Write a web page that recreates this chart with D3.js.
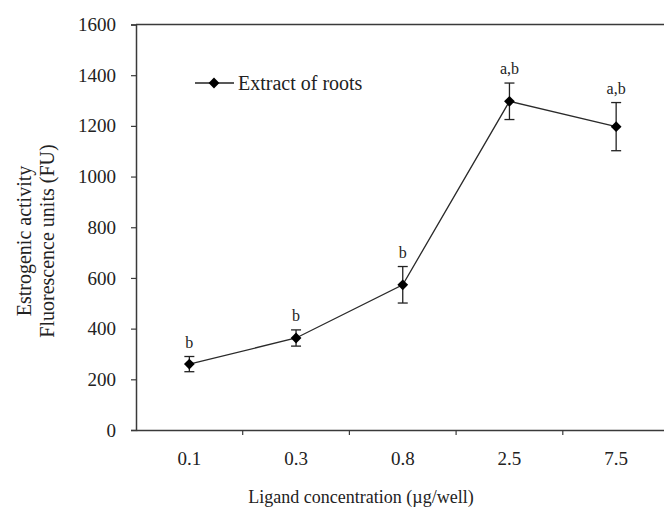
<!DOCTYPE html>
<html>
<head>
    <meta charset="utf-8">
    <title>estrogenic activity</title>
    <script type="text/javascript" src="https://d3js.org/d3.v7.min.js"></script>
    <style>
      body { margin: 0; background: #fff; }
      text { font-family: "Liberation Serif", "Times New Roman", serif; fill: #222; }
    </style>
</head>
<body>
<script type="text/javascript">
    // data
    var concentrations = ["0.1", "0.3", "0.8", "2.5", "7.5"]
    var activity = [260, 363, 573, 1297, 1197]
    var errors = [30, 32, 72, 72, 95]
    var letters = ["b", "b", "b", "a,b", "a,b"]
    var yTicks = [0, 200, 400, 600, 800, 1000, 1200, 1400, 1600]

    var width = 664
    var height = 511
    var svg = d3.select("body")
        .append("svg")
        .attr("width", width)
        .attr("height", height)

    var plotLeft = 136, plotRight = 669.5, plotTop = 24.5, plotBottom = 430

    var x = d3.scaleBand().domain(concentrations).range([plotLeft, plotRight])
    var y = d3.scaleLinear().domain([0, 1600]).range([plotBottom, plotTop])

    var axisColor = "#3a3a3a"

    // top border of plot area
    svg.append("line")
        .attr("x1", plotLeft).attr("x2", plotRight)
        .attr("y1", y(1600)).attr("y2", y(1600))
        .attr("stroke", axisColor).attr("stroke-width", 1.5)

    // y axis
    var yAxis = svg.append("g")
        .attr("transform", "translate(" + plotLeft + ",0)")
        .call(d3.axisLeft(y).tickValues(yTicks).tickFormat(d3.format("d")).tickSize(5).tickPadding(15))
    yAxis.select(".domain").attr("stroke", axisColor).attr("stroke-width", 1.5)
    yAxis.selectAll(".tick line").attr("stroke", axisColor).attr("stroke-width", 1.2)
    yAxis.selectAll(".tick text").style("font-size", "19px").style("font-family", "Liberation Serif").attr("fill", "#222")

    // x axis, ticks on category boundaries
    var xAxis = svg.append("g")
        .attr("transform", "translate(0," + plotBottom + ")")
        .call(d3.axisBottom(x).tickSize(0).tickPadding(22))
    xAxis.select(".domain").attr("stroke", axisColor).attr("stroke-width", 1.5)
    xAxis.selectAll(".tick text").style("font-size", "19px").style("font-family", "Liberation Serif").attr("fill", "#222")
    var bounds = concentrations.slice(1).map(function(c) { return x(c) })
    bounds.push(plotRight)
    svg.append("g").selectAll("line").data(bounds).enter().append("line")
        .attr("x1", function(d) { return d }).attr("x2", function(d) { return d })
        .attr("y1", plotBottom).attr("y2", plotBottom + 5)
        .attr("stroke", axisColor).attr("stroke-width", 1.2)

    var cx = function(i) { return x(concentrations[i]) + x.bandwidth() / 2 }

    // connecting line
    var line = d3.line()
        .x(function(d, i) { return cx(i) })
        .y(function(d) { return y(d) })
    svg.append("path")
        .attr("d", line(activity))
        .attr("fill", "none")
        .attr("stroke", "#2a2a2a")
        .attr("stroke-width", 1.3)

    // error bars
    var eb = svg.append("g").attr("stroke", "#222").attr("stroke-width", 1.3)
    activity.forEach(function(v, i) {
        var xc = cx(i)
        eb.append("line").attr("x1", xc).attr("x2", xc)
            .attr("y1", y(v + errors[i])).attr("y2", y(v - errors[i]))
        eb.append("line").attr("x1", xc - 5).attr("x2", xc + 5)
            .attr("y1", y(v + errors[i])).attr("y2", y(v + errors[i]))
        eb.append("line").attr("x1", xc - 5).attr("x2", xc + 5)
            .attr("y1", y(v - errors[i])).attr("y2", y(v - errors[i]))
    })

    // markers: squares turned 45 degrees
    var diamond = d3.symbol().type(d3.symbolSquare).size(58)
    svg.append("g").selectAll("path").data(activity).enter().append("path")
        .attr("d", diamond)
        .attr("transform", function(d, i) { return "translate(" + cx(i) + "," + y(d) + ") rotate(45)" })
        .attr("fill", "#000")

    // significance letters
    svg.append("g").selectAll("text").data(letters).enter().append("text")
        .attr("x", function(d, i) { return cx(i) })
        .attr("y", function(d, i) { return y(activity[i] + errors[i]) - 9 })
        .attr("text-anchor", "middle")
        .style("font-size", "16px")
        .text(function(d) { return d })

    // legend
    svg.append("line")
        .attr("x1", 195).attr("x2", 234).attr("y1", 83).attr("y2", 83)
        .attr("stroke", "#222").attr("stroke-width", 1.3)
    svg.append("path").attr("d", diamond)
        .attr("transform", "translate(214,83) rotate(45)").attr("fill", "#000")
    svg.append("text").attr("x", 238).attr("y", 90)
        .style("font-size", "20px")
        .text("Extract of roots")

    // axis titles
    svg.append("text")
        .attr("x", 361).attr("y", 503)
        .attr("text-anchor", "middle")
        .style("font-size", "18px")
        .text("Ligand concentration (\u00b5g/well)")

    var yt = svg.append("text")
        .attr("transform", "translate(0,241) rotate(-90)")
        .attr("text-anchor", "middle")
        .style("font-size", "20px")
    yt.append("tspan").attr("x", 0).attr("y", 31).text("Estrogenic activity")
    yt.append("tspan").attr("x", 0).attr("y", 54).text("Fluorescence units (FU)")
</script>
</body>
</html>
